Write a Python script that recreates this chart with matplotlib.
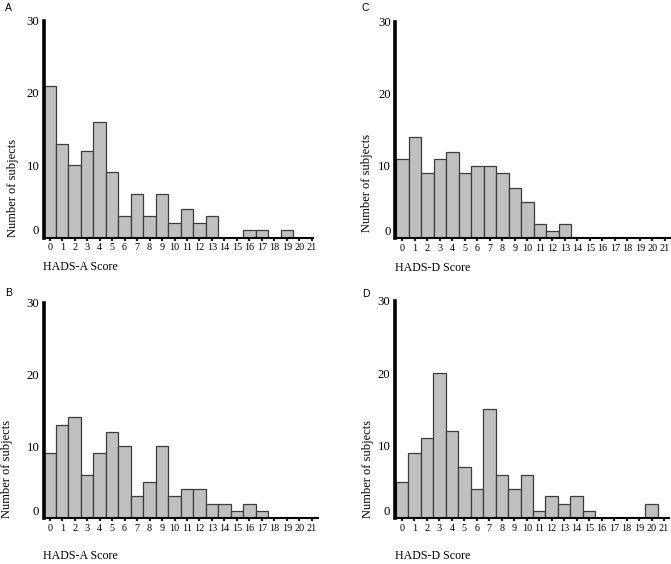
from typing import List, Tuple

import matplotlib

matplotlib.use("Agg")
import matplotlib.pyplot as plt


SCORES = list(range(22))

HADS_A_TOP = [21, 13, 10, 12, 16, 9, 3, 6, 3, 6, 2, 4, 2, 3, 0, 0, 1, 1, 0, 1, 0, 0]
HADS_D_TOP = [11, 14, 9, 11, 12, 9, 10, 10, 9, 7, 5, 2, 1, 2, 0, 0, 0, 0, 0, 0, 0, 0]
HADS_A_BOTTOM = [9, 13, 14, 6, 9, 12, 10, 3, 5, 10, 3, 4, 4, 2, 2, 1, 2, 1, 0, 0, 0, 0]
HADS_D_BOTTOM = [5, 9, 11, 20, 12, 7, 4, 15, 6, 4, 6, 1, 3, 2, 3, 1, 0, 0, 0, 0, 2, 0]

Y_TICKS = [0, 10, 20, 30]

W, H = 671, 564
SERIF = "Liberation Serif"
SANS = "Liberation Sans"


def px_box(left: float, top: float, right: float, bottom: float) -> List[float]:
    # pixel box -> figure fraction [l, b, w, h]
    return [left / W, 1 - bottom / H, (right - left) / W, (bottom - top) / H]


def draw_panel(
    fig,
    box: List[float],
    values: List[int],
    xlim: Tuple[float, float],
    letter: str,
    letter_xy: Tuple[float, float],
    xlabel: str,
    xlabel_xy: Tuple[float, float],
    ylabel_xy: Tuple[float, float],
) -> None:
    ax = fig.add_axes(box)
    ax.bar(SCORES, values, width=1.0, color="#c0c0c0",
           edgecolor="#3c3c3c", linewidth=0.9, zorder=2)

    ax.set_xlim(*xlim)
    ax.set_ylim(0, 30)

    for side in ("top", "right"):
        ax.spines[side].set_visible(False)
    ax.spines["left"].set_linewidth(2.6)
    ax.spines["left"].set_bounds(0, 30)
    ax.spines["bottom"].set_linewidth(1.5)
    for sp in ax.spines.values():
        sp.set_zorder(3)

    ax.set_xticks(SCORES)
    ax.set_xticklabels([str(s) for s in SCORES], fontfamily=SERIF, fontsize=7.3)
    ax.tick_params(axis="x", direction="out", length=2.2, width=1.6,
                   color="#222222", pad=2)

    ax.set_yticks(Y_TICKS)
    ax.set_yticklabels([str(t) for t in Y_TICKS], fontfamily=SERIF, fontsize=9.2)
    ax.tick_params(axis="y", length=0, pad=3)
    ax.get_yticklabels()[0].set_va("bottom")

    fig.text(letter_xy[0] / W, 1 - letter_xy[1] / H, letter,
             fontfamily=SANS, fontsize=7.5, ha="left", va="center")
    fig.text(xlabel_xy[0] / W, 1 - xlabel_xy[1] / H, xlabel,
             fontfamily=SERIF, fontsize=8.6, ha="left", va="center")
    fig.text(ylabel_xy[0] / W, 1 - ylabel_xy[1] / H, "Number of subjects",
             fontfamily=SERIF, fontsize=9, rotation=90,
             ha="center", va="bottom")


def main() -> None:
    fig = plt.figure(figsize=(W / 100, H / 100), dpi=100)

    draw_panel(fig, px_box(43.5, 20.7, 313, 237.5), HADS_A_TOP, (-0.5, 21.1),
               "A", (5, 8), "HADS-A Score", (43, 267), (13, 237))
    draw_panel(fig, px_box(395, 22, 671, 238), HADS_D_TOP, (-0.6, 21.5),
               "C", (362, 8), "HADS-D Score", (395, 268), (367, 232))
    draw_panel(fig, px_box(43.5, 302.5, 318, 518), HADS_A_BOTTOM, (-0.5, 21.5),
               "B", (5, 293), "HADS-A Score", (43, 556), (7, 518))
    draw_panel(fig, px_box(394.5, 300.5, 669, 518), HADS_D_BOTTOM, (-0.6, 21.4),
               "D", (362, 294), "HADS-D Score", (395, 556), (368, 518))

    fig.savefig("out.png", dpi=100)


if __name__ == "__main__":
    main()
